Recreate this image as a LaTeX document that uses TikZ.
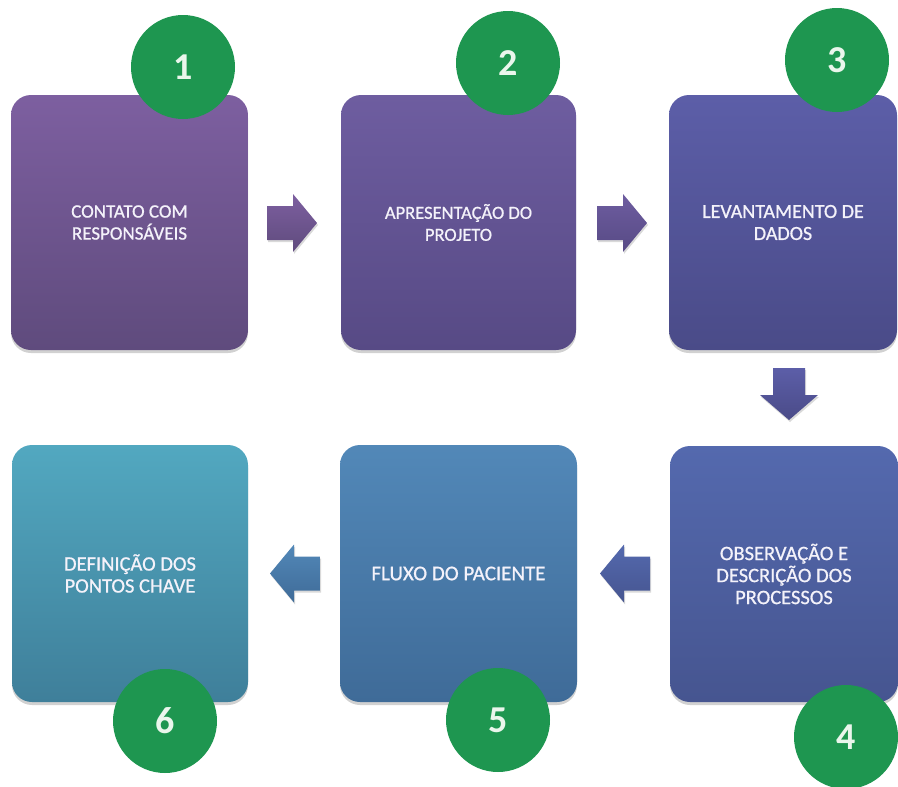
\documentclass[tikz,border=0pt]{standalone}
\usepackage{fontspec}
\setmainfont{Carlito}
\newfontfamily\boxfont{Carlito}[FakeBold=0.8]
\usetikzlibrary{shadows}
\definecolor{bAt}{HTML}{7D5FA0}\definecolor{bAb}{HTML}{5F4B7D}
\definecolor{bBt}{HTML}{6E5DA0}\definecolor{bBb}{HTML}{574A85}
\definecolor{bCt}{HTML}{5C5EA8}\definecolor{bCb}{HTML}{4A4B88}
\definecolor{bDt}{HTML}{5469AE}\definecolor{bDb}{HTML}{465590}
\definecolor{bEt}{HTML}{5288B8}\definecolor{bEb}{HTML}{3F6B98}
\definecolor{bFt}{HTML}{52A8C0}\definecolor{bFb}{HTML}{3F7F9A}
\definecolor{numgreen}{HTML}{1E9650}
\definecolor{numtext}{HTML}{EAF6EC}
\definecolor{boxtext}{HTML}{F4F2FA}
\tikzset{
  stepbox/.style={rectangle, rounded corners=20pt, inner sep=0pt,
    align=center, text=boxtext, font=\boxfont\fontsize{#1}{22}\selectfont,
    drop shadow={shadow xshift=0pt, shadow yshift=-3pt, opacity=0.18, fill=black}},
  stepbox/.default=19,
  numdisc/.style={circle, fill=numgreen, minimum size=104pt, inner sep=0pt,
    text=numtext, font=\fontsize{38}{38}\selectfont\bfseries},
  blockarrow/.style={drop shadow={shadow xshift=1pt, shadow yshift=-2pt, opacity=0.15, fill=black}}
}
% right-pointing block arrow: x-start, x-tip, y-centre
\newcommand\rblock[4][]{\path[blockarrow,#1] (#2,#4-17) -- (#3-24,#4-17) -- (#3-24,#4-29) -- (#3,#4) -- (#3-24,#4+29) -- (#3-24,#4+17) -- (#2,#4+17) -- cycle;}
% left-pointing block arrow: x-start (right), x-tip (left), y-centre
\newcommand\lblock[4][]{\path[blockarrow,#1] (#2,#4-17) -- (#3+24,#4-17) -- (#3+24,#4-29) -- (#3,#4) -- (#3+24,#4+29) -- (#3+24,#4+17) -- (#2,#4+17) -- cycle;}
% down-pointing block arrow: y-start, y-tip, x-centre
\newcommand\dblock[4][]{\path[blockarrow,#1] (#4-16,#2) -- (#4-16,#3-25) -- (#4-29,#3-25) -- (#4,#3) -- (#4+29,#3-25) -- (#4+16,#3-25) -- (#4+16,#2) -- cycle;}
\begin{document}
\begin{tikzpicture}[x=1pt,y=-1pt]
\useasboundingbox (0,0) rectangle (898,787);
% boxes
\node[stepbox=19, minimum width=237pt, minimum height=255pt, top color=bAt, bottom color=bAb] (b1) at (129.5,222.5) {CONTATO COM\\RESPONSÁVEIS};
\node[stepbox=18.5, minimum width=235pt, minimum height=255pt, top color=bBt, bottom color=bBb] (b2) at (458.5,222.5) {APRESENTAÇÃO DO\\PROJETO};
\node[stepbox=20, minimum width=228pt, minimum height=255pt, top color=bCt, bottom color=bCb] (b3) at (783,222.5) {LEVANTAMENTO DE\\DADOS};
\node[stepbox=20.5, minimum width=228pt, minimum height=256pt, top color=bDt, bottom color=bDb] (b4) at (784,574) {OBSERVAÇÃO E\\DESCRIÇÃO DOS\\PROCESSOS};
\node[stepbox=21, minimum width=237pt, minimum height=257pt, top color=bEt, bottom color=bEb] (b5) at (458.5,573.5) {FLUXO DO PACIENTE};
\node[stepbox=20.5, minimum width=236pt, minimum height=257pt, top color=bFt, bottom color=bFb] (b6) at (130,573.5) {DEFINIÇÃO DOS\\PONTOS CHAVE};
% block arrows between the steps
\rblock[top color=bAt, bottom color=bAb]{267}{317}{223}
\rblock[top color=bBt, bottom color=bBb]{597}{647}{223}
\dblock[top color=bCt, bottom color=bCb]{368}{420}{789}
\lblock[top color=bDt, bottom color=bDb]{650}{600}{573.5}
\lblock[top color=bEt, bottom color=bEb]{320}{270}{573.5}
% number discs
\node[numdisc] (n1) at (183,67) {1};
\node[numdisc] (n2) at (508,63) {2};
\node[numdisc] (n3) at (837,60) {3};
\node[numdisc] (n4) at (846,737) {4};
\node[numdisc] (n5) at (498,720) {5};
\node[numdisc] (n6) at (165,721) {6};
\end{tikzpicture}
\end{document}
